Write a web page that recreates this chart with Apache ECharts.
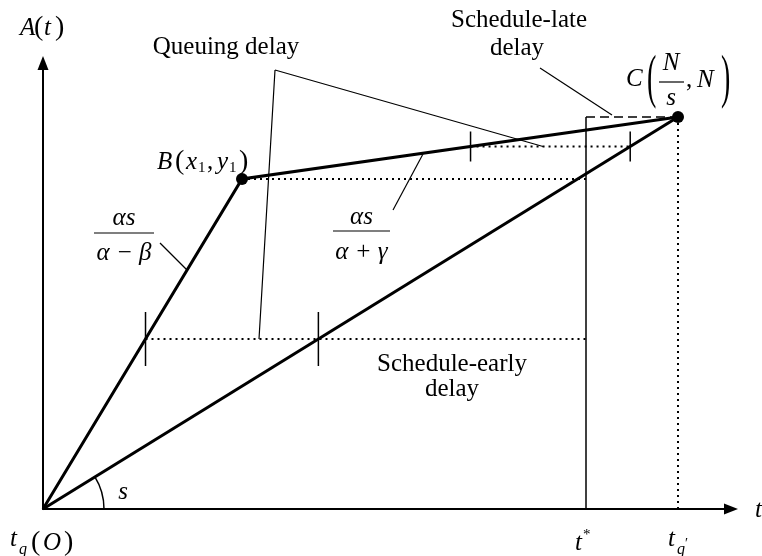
<!DOCTYPE html>
<html>
<head>
<meta charset="utf-8">
<script src="https://cdn.jsdelivr.net/npm/echarts@6/dist/echarts.min.js"></script>
<style>
  html, body { margin: 0; padding: 0; background: #fff; }
  #chart { width: 762px; height: 556px; }
</style>
</head>
<body>
<div id="chart"></div>
<script>
// Axis extents: time t (horizontal) and cumulative arrivals A(t) (vertical)
const tAxisMax = 688;
const aAxisMax = 446;

// Arrival curve: O -> B(x1, y1) -> C(N/s, N)
const arrivalT = [0, 199, 635];
const arrivalA = [0, 330, 392];

// Departure curve at service rate s: O -> C(N/s, N)
const serviceT = [0, 635];
const serviceA = [0, 392];

// Preferred arrival time t* and end of the queue t_q' (= N/s)
const tStar = 543;
const tQueueEnd = 635;
const N = 392;

const earlyLevel = 170;   // schedule-early / queuing delay example
const lateLevel = 362.5;  // late-arriving example

const ink = '#000';
const SERIF = '"Liberation Serif", "Times New Roman", serif';

// Time at which a piecewise-linear curve reaches a given count
function timeAt(ts, as, a) {
  for (let i = 0; i < ts.length - 1; i++) {
    const a0 = as[i], a1 = as[i + 1];
    if (a0 !== a1 && (a - a0) * (a - a1) <= 0) {
      return ts[i] + (a - a0) / (a1 - a0) * (ts[i + 1] - ts[i]);
    }
  }
  return null;
}
const zip = (ts, as) => ts.map((t, i) => [t, as[i]]);

const x1 = arrivalT[1], y1 = arrivalA[1];
const earlyArr = timeAt(arrivalT, arrivalA, earlyLevel);
const earlyDep = timeAt(serviceT, serviceA, earlyLevel);
const lateArr = timeAt(arrivalT, arrivalA, lateLevel);
const lateDep = timeAt(serviceT, serviceA, lateLevel);

// Leader lines joining text to the parts of the figure they describe
const leaderQueue = [[232, 439], [216, earlyLevel], null, [232, 439], [500, lateLevel]];
const leaderLate = [[497, 441], [569, 394]];
const leaderFrac1 = [[117, 266], [144, 239]];
const leaderFrac2 = [[350, 299], [380, 355]];

// Text pieces: T(text, dx, dy, size, italic, align, scaleY); Bar(from, to, dy)
function T(s, dx, dy, size, italic, align, sy) {
  return { kind: 'text', s, dx, dy, size: size || 25, italic: !!italic, align: align || 'left', sy: sy || 1 };
}
function Bar(from, to, dy) { return { kind: 'bar', from, to, dy }; }

const LABELS = [
  { at: [0, 481], parts: [T('A', -23, 0, 25, 1), T('(', -9, 0, 28), T('t', 1, 0, 25, 1), T(')', 12, 0, 28)] },
  { at: [183, 462], parts: [T('Queuing delay', 0, 0, 25, 0, 'center')] },
  { at: [476, 489], parts: [T('Schedule-late', 0, 0, 25, 0, 'center'), T('delay', -2, 28, 25, 0, 'center')] },
  { at: [409, 145], parts: [T('Schedule-early', 0, 0, 25, 0, 'center'), T('delay', 0, 25, 25, 0, 'center')] },
  { at: [114, 347], parts: [T('B', 0, 0, 25, 1), T('(', 18, 0, 28), T('x', 29, 0, 25, 1), T('1', 41, 6, 15),
                            T(',', 50, 0, 25), T('y', 60, 0, 25, 1), T('1', 72, 6, 15), T(')', 82, 0, 28)] },
  { at: [583, 429], parts: [T('C', 0, -1, 25, 1), T('(', 21, 1, 28, 0, 'left', 2.1), T('N', 45, -17, 25, 1, 'center'),
                            Bar(33, 58, 2), T('s', 45, 18, 25, 1, 'center'), T(',', 60, 0, 25), T('N', 71, 0, 25, 1),
                            T(')', 95, 1, 28, 0, 'left', 2.1)] },
  { at: [81, 276], parts: [T('αs', 0, -15, 25, 1, 'center'), Bar(-30, 30, 0), T('α − β', 0, 20, 25, 1, 'center')] },
  { at: [318.5, 278], parts: [T('αs', 0, -14, 25, 1, 'center'), Bar(-28.5, 28.5, 0), T('α + γ', 0, 21, 25, 1, 'center')] },
  { at: [80, 17], parts: [T('s', 0, 0, 25, 1, 'center')] },
  { at: [-33, -31], parts: [T('t', 0, -1, 25, 1), T('q', 9, 10, 16, 1), T('(', 21, 3, 28), T('O', 33, 3, 25, 1), T(')', 54, 3, 28)] },
  { at: [532, -34], parts: [T('t', 0, 0, 25, 1), T('*', 8, -8, 15)] },
  { at: [625, -30], parts: [T('t', 0, 0, 25, 1), T('q', 9, 11, 16, 1), T('′', 17, 5, 14)] },
  { at: [712, -1], parts: [T('t', 0, 0, 25, 1)] }
];

function renderPart(p, base) {
  if (p.kind === 'bar') {
    return {
      type: 'line',
      shape: { x1: base[0] + p.from, y1: base[1] + p.dy, x2: base[0] + p.to, y2: base[1] + p.dy },
      style: { stroke: ink, lineWidth: 1.2 }
    };
  }
  return {
    type: 'text',
    x: base[0] + p.dx, y: base[1] + p.dy,
    scaleY: p.sy,
    style: {
      x: 0, y: 0, text: p.s, fill: ink,
      font: (p.italic ? 'italic ' : '') + p.size + 'px ' + SERIF,
      align: p.align, verticalAlign: 'middle'
    }
  };
}

function path(points, width, type, z) {
  return {
    type: 'line', data: points, symbol: 'none', silent: true, animation: false,
    connectNulls: false, z: z || 3,
    lineStyle: { color: ink, width: width, type: type || 'solid', cap: 'butt', join: 'miter', opacity: 1 }
  };
}

function ticks(points, half) {
  return {
    type: 'custom', data: points, silent: true, animation: false, z: 4,
    renderItem(params, api) {
      const p = api.coord([api.value(0), api.value(1)]);
      return {
        type: 'line',
        shape: { x1: p[0], y1: p[1] - half, x2: p[0], y2: p[1] + half },
        style: { stroke: ink, lineWidth: 1.5 }
      };
    }
  };
}

const axisCommon = {
  type: 'value',
  splitLine: { show: false },
  axisTick: { show: false },
  axisLabel: { show: false },
  axisLine: {
    show: true,
    symbol: ['none', 'triangle'],
    symbolSize: [11, 14],
    lineStyle: { color: ink, width: 2 }
  }
};

const option = {
  animation: false,
  backgroundColor: '#fff',
  grid: { left: 43, top: 63, width: tAxisMax, height: aAxisMax },
  xAxis: Object.assign({}, axisCommon, { min: 0, max: tAxisMax }),
  yAxis: Object.assign({}, axisCommon, { min: 0, max: aAxisMax }),
  series: [
    // preferred arrival time t* and the schedule-late box
    path([[tStar, 0], [tStar, N]], 1.5, 'solid', 2),
    path([[tStar, N], [tQueueEnd, N]], 1.5, [9, 5], 2),
    // dotted guides
    path([[tQueueEnd, N], [tQueueEnd, 0]], 2, [2, 4], 2),
    path([[x1, y1], [tStar, y1]], 2, [2, 4], 2),
    path([[earlyArr, earlyLevel], [tStar, earlyLevel]], 2, [2, 4], 2),
    path([[lateArr, lateLevel], [lateDep, lateLevel]], 2, [2, 4], 2),
    // arrival and departure curves
    path(zip(arrivalT, arrivalA), 3),
    path(zip(serviceT, serviceA), 3),
    // leader lines
    path(leaderQueue, 1.2),
    path(leaderLate, 1.2),
    path(leaderFrac1, 1.2),
    path(leaderFrac2, 1.2),
    // delay markers
    ticks([[earlyArr, earlyLevel], [earlyDep, earlyLevel]], 27),
    ticks([[lateArr, lateLevel], [lateDep, lateLevel]], 15),
    // points B and C
    {
      type: 'scatter', data: [[x1, y1], [arrivalT[2], arrivalA[2]]],
      symbol: 'circle', symbolSize: 12, itemStyle: { color: ink, opacity: 1 }, silent: true, z: 6
    },
    // service-rate angle s
    {
      type: 'custom', data: [[0, 0]], silent: true, clip: false, z: 4,
      renderItem(params, api) {
        const o = api.coord([serviceT[0], serviceA[0]]);
        const c = api.coord([serviceT[1], serviceA[1]]);
        const ang = Math.atan2(c[1] - o[1], c[0] - o[0]);
        return {
          type: 'arc',
          shape: { cx: o[0], cy: o[1], r: 61, startAngle: ang, endAngle: 0, clockwise: true },
          style: { stroke: ink, fill: 'none', lineWidth: 1.5 }
        };
      }
    },
    // text
    {
      type: 'custom', clip: false, silent: true, z: 7,
      data: LABELS.map((l, i) => [l.at[0], l.at[1], i]),
      renderItem(params, api) {
        const L = LABELS[params.dataIndex];
        const base = api.coord([api.value(0), api.value(1)]);
        return { type: 'group', children: L.parts.map(p => renderPart(p, base)) };
      }
    }
  ]
};

const chart = echarts.init(document.getElementById('chart'), null, { renderer: 'canvas' });
chart.setOption(option);
</script>
</body>
</html>
